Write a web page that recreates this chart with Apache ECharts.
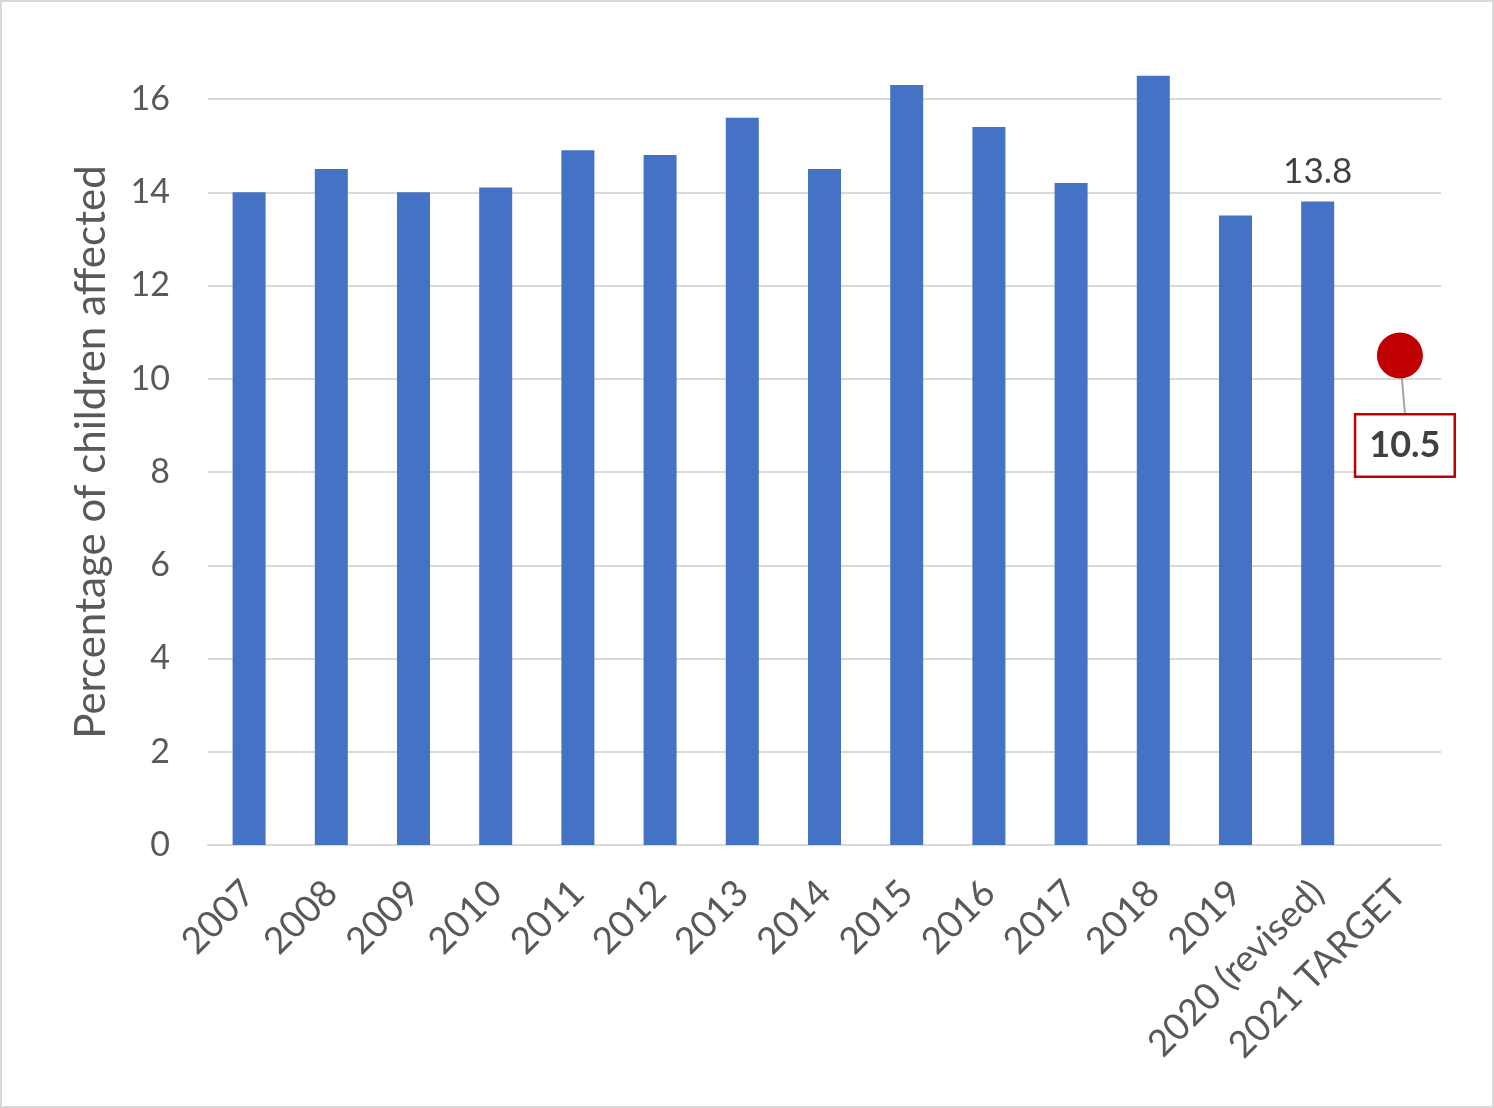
<!DOCTYPE html>
<html>
<head>
<meta charset="utf-8">
<script src="https://cdn.jsdelivr.net/npm/echarts@6/dist/echarts.min.js"></script>
<style>
  html, body { margin: 0; padding: 0; background: #fff; }
  #chart { width: 1494px; height: 1108px; box-sizing: border-box; border: 2px solid #d9d9d9; }
</style>
</head>
<body>
<div id="chart"></div>
<script>
// categories and values
const years = ["2007", "2008", "2009", "2010", "2011", "2012", "2013", "2014",
  "2015", "2016", "2017", "2018", "2019", "2020 (revised)", "2021 TARGET"];
const percentAffected = [14.0, 14.5, 14.0, 14.1, 14.9, 14.8, 15.6, 14.5,
  16.3, 15.4, 14.2, 16.5, 13.5, 13.8, null];
const targetValue = 10.5;
const yTicks = { min: 0, max: 16, interval: 2 };

const FONT = "Lato, 'Open Sans', sans-serif";
const GREY = "#595959";

const chart = echarts.init(document.getElementById("chart"), null, { renderer: "canvas" });

const barData = percentAffected.map((v, i) => {
  if (v === null) return "-";
  // only the last measured year gets a value label
  if (i === percentAffected.length - 2) {
    return {
      value: v,
      label: { show: true, position: "top", distance: 12, fontSize: 35, color: "#404040", fontFamily: FONT }
    };
  }
  return v;
});

const targetData = years.map((y, i) => (i === years.length - 1 ? targetValue : "-"));

chart.setOption({
  animation: false,
  grid: { left: 206, right: 51, top: 97, bottom: 261 },
  xAxis: {
    type: "category",
    data: years,
    axisLine: { lineStyle: { color: "#d9d9d9", width: 2 } },
    axisTick: { show: false },
    axisLabel: { rotate: 45, color: GREY, fontSize: 37, fontFamily: FONT, margin: 42, interval: 0 }
  },
  yAxis: {
    type: "value",
    min: yTicks.min,
    max: yTicks.max,
    interval: yTicks.interval,
    name: "Percentage of children affected",
    nameLocation: "middle",
    nameGap: 96,
    nameTextStyle: { color: GREY, fontSize: 42, fontFamily: FONT, padding: [0, 0, 0, 40] },
    axisLine: { show: false },
    axisTick: { show: false },
    axisLabel: { color: GREY, fontSize: 34, fontFamily: FONT, margin: 38 },
    splitLine: { lineStyle: { color: "#d9d9d9", width: 2 } }
  },
  series: [
    {
      type: "bar",
      data: barData,
      barWidth: 33,
      clip: false,
      itemStyle: { color: "#4472c4" }
    },
    {
      type: "scatter",
      data: targetData,
      symbolSize: 46,
      itemStyle: { color: "#c00000", opacity: 1 },
      z: 5,
      label: {
        show: true,
        position: "inside",
        formatter: "{c}",
        fontSize: 36,
        fontWeight: "bold",
        color: "#404040",
        fontFamily: FONT,
        backgroundColor: "#fff",
        borderColor: "#c00000",
        borderWidth: 2.5,
        padding: [14, 13, 10, 13]
      },
      labelLayout: { dx: 5, dy: 90 },
      labelLine: { show: true, lineStyle: { color: "#a6a6a6", width: 2 } }
    }
  ]
});
</script>
</body>
</html>
